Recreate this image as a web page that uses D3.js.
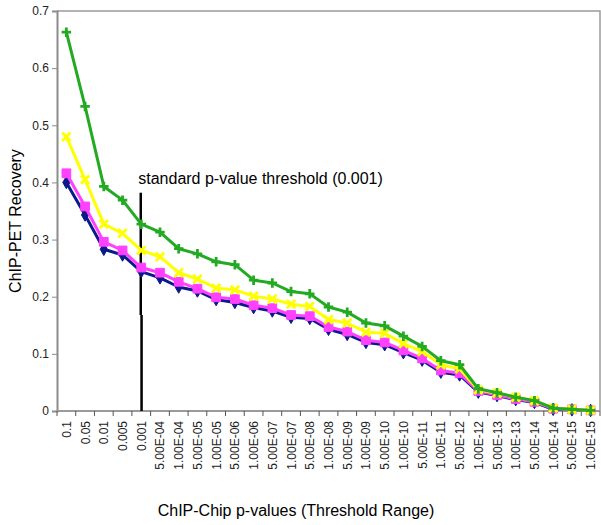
<!DOCTYPE html>
<html>
<head>
<meta charset="utf-8">
<script src="https://cdn.jsdelivr.net/npm/d3@7"></script>
<style>
  html, body { margin: 0; padding: 0; background: #fff; }
  svg { display: block; font-family: Arial, "Liberation Sans", sans-serif; }
</style>
</head>
<body>
<svg id="chart" width="601" height="525"></svg>
<script>
// p-value thresholds along the x axis
const categories = ["0.1", "0.05", "0.01", "0.005", "0.001",
  "5.00E-04", "1.00E-04", "5.00E-05", "1.00E-05", "5.00E-06", "1.00E-06",
  "5.00E-07", "1.00E-07", "5.00E-08", "1.00E-08", "5.00E-09", "1.00E-09",
  "5.00E-10", "1.00E-10", "5.00E-11", "1.00E-11", "5.00E-12", "1.00E-12",
  "5.00E-13", "1.00E-13", "5.00E-14", "1.00E-14", "5.00E-15", "1.00E-15"];

// ChIP-PET recovery for each of the four series
const seriesBlue = [0.400, 0.343, 0.283, 0.273, 0.244, 0.233, 0.217, 0.210, 0.195, 0.190, 0.181, 0.175,
  0.164, 0.162, 0.143, 0.134, 0.120, 0.116, 0.102, 0.089, 0.068, 0.063, 0.033, 0.027, 0.020, 0.015, 0.003, 0.002, 0.001];
const seriesMagenta = [0.416, 0.358, 0.296, 0.281, 0.251, 0.242, 0.226, 0.214, 0.199, 0.196, 0.185, 0.180,
  0.168, 0.166, 0.147, 0.139, 0.124, 0.120, 0.106, 0.092, 0.071, 0.066, 0.035, 0.028, 0.021, 0.016, 0.004, 0.003, 0.001];
const seriesYellow = [0.480, 0.405, 0.327, 0.311, 0.281, 0.270, 0.242, 0.231, 0.215, 0.212, 0.201, 0.196,
  0.187, 0.183, 0.160, 0.154, 0.138, 0.136, 0.118, 0.104, 0.081, 0.074, 0.037, 0.031, 0.024, 0.018, 0.005, 0.003, 0.001];
const seriesGreen = [0.663, 0.533, 0.393, 0.369, 0.327, 0.313, 0.284, 0.275, 0.261, 0.256, 0.229, 0.224,
  0.209, 0.205, 0.182, 0.173, 0.154, 0.149, 0.131, 0.113, 0.088, 0.081, 0.039, 0.032, 0.024, 0.018, 0.005, 0.003, 0.001];

const yTicks = [0, 0.1, 0.2, 0.3, 0.4, 0.5, 0.6, 0.7];
const yTickLabels = ["0", "0.1", "0.2", "0.3", "0.4", "0.5", "0.6", "0.7"];

const thresholdCategory = "0.001";
const thresholdLabel = "standard p-value threshold (0.001)";
const thresholdTop = 0.382;
const thresholdBreak = 0.168;

const xTitle = "ChIP-Chip p-values (Threshold Range)";
const yTitle = "ChIP-PET Recovery";

// layout
const plot = { left: 57, right: 600, top: 11, bottom: 411 };

const svg = d3.select("#chart");

const x = d3.scaleBand().domain(categories).range([plot.left, plot.right]).padding(0);
const y = d3.scaleLinear().domain([0, 0.7]).range([plot.bottom, plot.top]);
const cx = c => x(c) + x.bandwidth() / 2;

// plot frame (top and right)
svg.append("path")
  .attr("d", `M${plot.left},${plot.top}H${plot.right}V${plot.bottom}`)
  .attr("fill", "none").attr("stroke", "#9a9a9a").attr("stroke-width", 1.5);

// y axis
const yAxis = d3.axisLeft(y).tickValues(yTicks)
  .tickFormat((d, i) => yTickLabels[i]).tickSize(5).tickPadding(3);
const gy = svg.append("g").attr("transform", `translate(${plot.left},0)`).call(yAxis);
gy.select(".domain").attr("stroke", "#8c8c8c").attr("stroke-width", 2);
gy.selectAll(".tick line").attr("stroke", "#8c8c8c").attr("stroke-width", 1);
gy.selectAll(".tick text").attr("font-size", 12).attr("fill", "#222")
  .attr("font-family", "Arial, 'Liberation Sans', sans-serif");

// x axis: ticks at category boundaries, labels rotated
const gx = svg.append("g").attr("class", "x-axis");
gx.append("line")
  .attr("x1", plot.left).attr("x2", plot.right)
  .attr("y1", plot.bottom).attr("y2", plot.bottom)
  .attr("stroke", "#9a9a9a").attr("stroke-width", 2);
const boundaries = categories.map(c => x(c)).concat([x.range()[1]]);
gx.selectAll("line.tick").data(boundaries).join("line")
  .attr("class", "tick")
  .attr("x1", d => d).attr("x2", d => d)
  .attr("y1", plot.bottom).attr("y2", plot.bottom + 5)
  .attr("stroke", "#555").attr("stroke-width", 1);
gx.selectAll("text").data(categories).join("text")
  .attr("transform", d => `translate(${cx(d) + 4.5},${plot.bottom + 10}) rotate(-90)`)
  .attr("text-anchor", "end")
  .attr("font-size", 12).attr("fill", "#222")
  .text(d => d);

// threshold marker line, drawn in two strokes
const tx = cx(thresholdCategory);
svg.append("line")
  .attr("x1", tx - 0.5).attr("x2", tx - 0.5)
  .attr("y1", y(thresholdTop)).attr("y2", y(thresholdBreak))
  .attr("stroke", "#000").attr("stroke-width", 2.5);
svg.append("line")
  .attr("x1", tx + 0.3).attr("x2", tx + 0.3)
  .attr("y1", y(thresholdBreak)).attr("y2", y(0))
  .attr("stroke", "#000").attr("stroke-width", 2.5);
svg.append("text")
  .attr("x", tx - 3).attr("y", y(thresholdTop) - 8.5)
  .attr("font-size", 16).attr("fill", "#000")
  .text(thresholdLabel);

// marker shapes
const plusSymbol = {
  draw(ctx, size) {
    const r = Math.sqrt(size) / 2;
    ctx.moveTo(-r, 0); ctx.lineTo(r, 0);
    ctx.moveTo(0, -r); ctx.lineTo(0, r);
  }
};
const crossSymbol = {
  draw(ctx, size) {
    const r = Math.sqrt(size) / 2;
    ctx.moveTo(-r, -r); ctx.lineTo(r, r);
    ctx.moveTo(-r, r); ctx.lineTo(r, -r);
  }
};

const series = [
  { values: seriesBlue, color: "#0a1a8c", symbol: d3.symbolDiamond, size: 45, filled: true },
  { values: seriesMagenta, color: "#ff40ff", symbol: d3.symbolSquare, size: 76, filled: true },
  { values: seriesYellow, color: "#ffff00", symbol: crossSymbol, size: 70, filled: false },
  { values: seriesGreen, color: "#22aa22", symbol: plusSymbol, size: 90, filled: false }
];

const line = d3.line().x((d, i) => cx(categories[i])).y(d => y(d));

series.forEach(s => {
  const g = svg.append("g");
  g.append("path")
    .attr("d", line(s.values))
    .attr("fill", "none").attr("stroke", s.color)
    .attr("stroke-width", 3).attr("stroke-linejoin", "round");
  g.selectAll("path.mark").data(s.values).join("path")
    .attr("class", "mark")
    .attr("transform", (d, i) => `translate(${cx(categories[i])},${y(d)})`)
    .attr("d", d3.symbol().type(s.symbol).size(s.size))
    .attr("fill", s.filled ? s.color : "none")
    .attr("stroke", s.color)
    .attr("stroke-width", s.filled ? 1 : 2.8);
});

// axis titles
svg.append("text")
  .attr("x", 296).attr("y", 516)
  .attr("text-anchor", "middle").attr("font-size", 16).attr("fill", "#000")
  .text(xTitle);
svg.append("text")
  .attr("transform", "translate(21,221) rotate(-90)")
  .attr("text-anchor", "middle").attr("font-size", 16).attr("fill", "#000")
  .text(yTitle);
</script>
</body>
</html>
